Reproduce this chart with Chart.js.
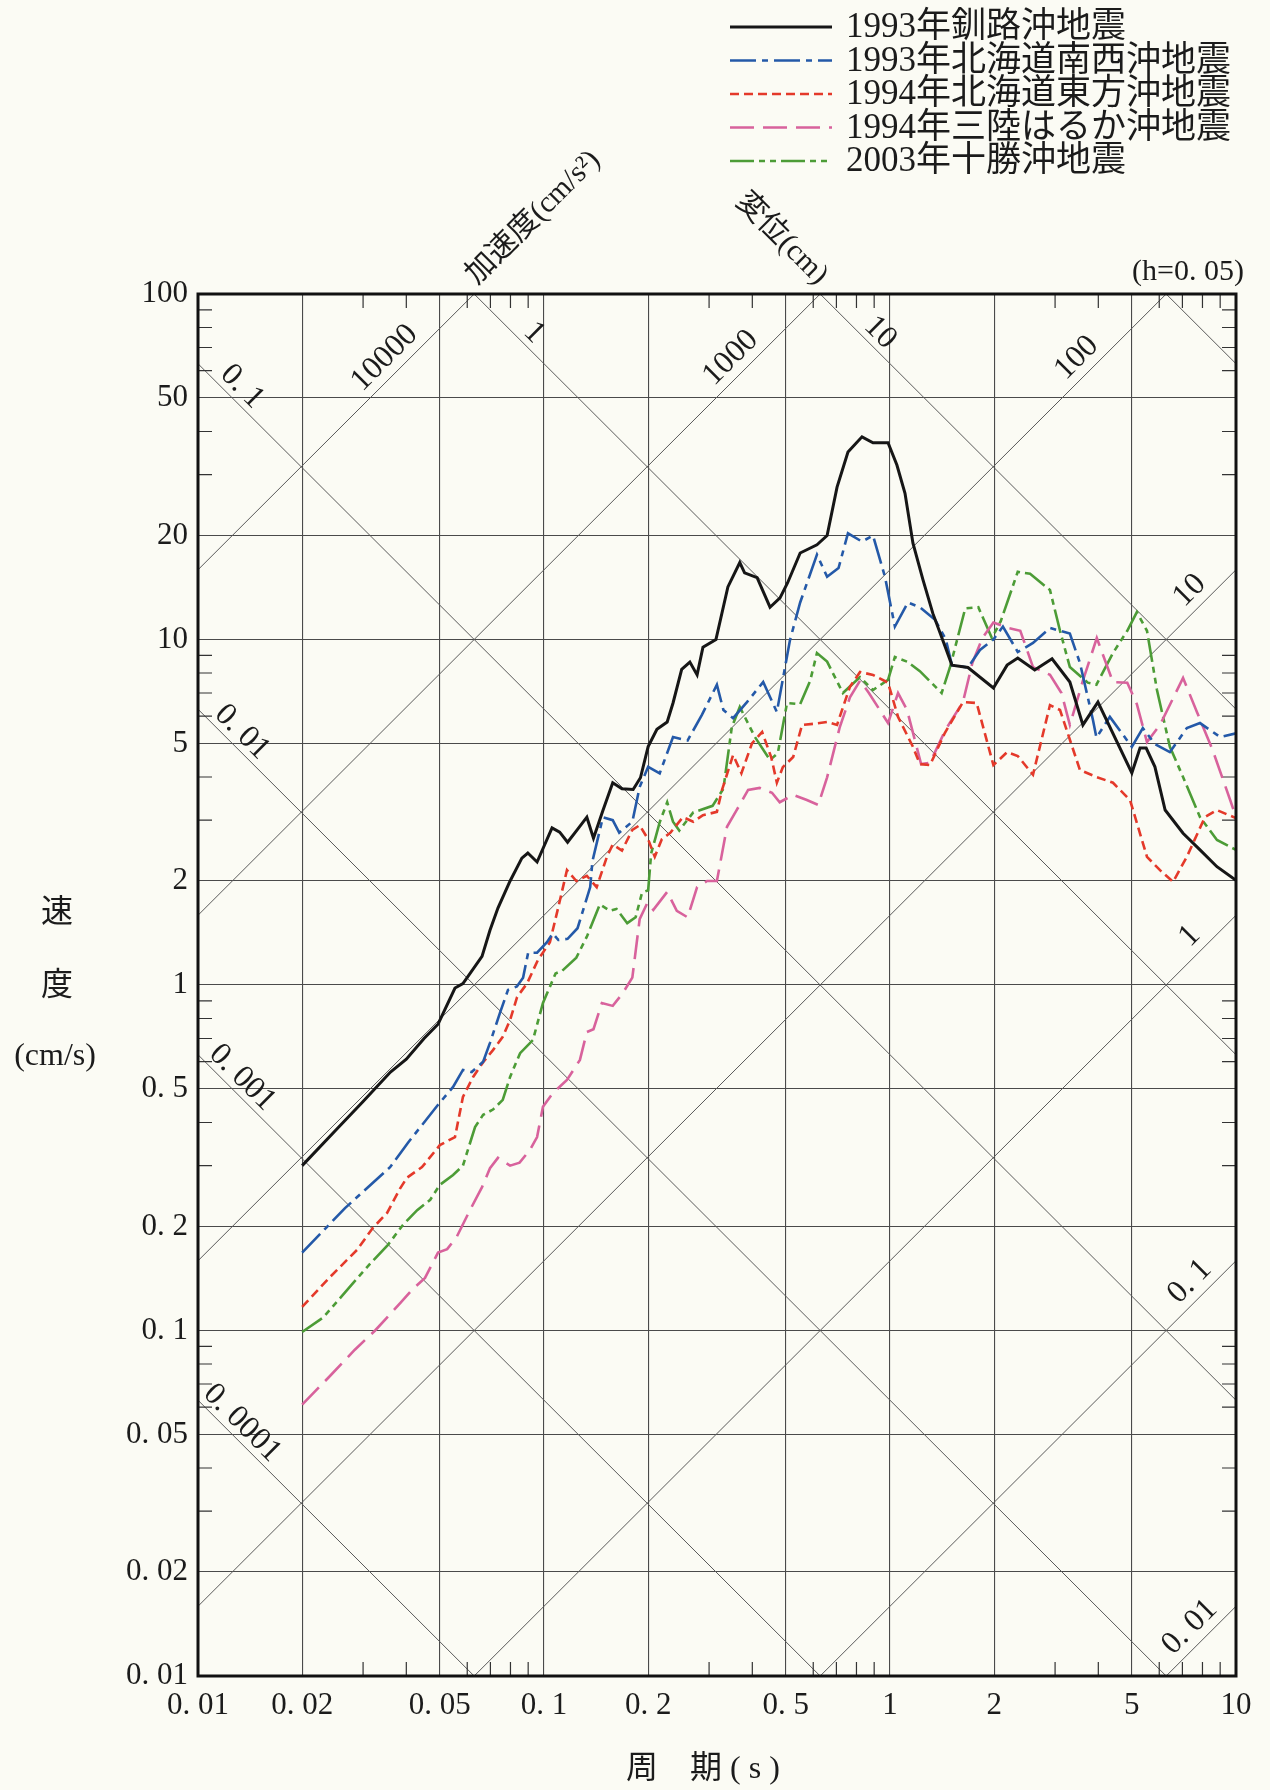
<!DOCTYPE html>
<html>
<head>
<meta charset="utf-8">
<script src="https://cdn.jsdelivr.net/npm/chart.js@4.4.1/dist/chart.umd.min.js"></script>
<style>
  html, body { margin: 0; padding: 0; background: #fbfbf4; }
  #wrap { position: absolute; left: 0; top: 0; width: 1270px; height: 1790px; }
</style>
</head>
<body>
<div id="wrap"><canvas id="grafico" width="1270" height="1790"></canvas></div>
<script>
// periods (s) and velocities (cm/s)
var kushiro = [[0.02,0.30],[0.025,0.38],[0.03,0.46],[0.036,0.56],[0.04,0.61],[0.045,0.70],[0.0494,0.77],[0.0553,0.98],[0.0583,1.01],[0.0662,1.21],[0.0698,1.44],[0.0736,1.67],[0.0798,2.0],[0.0863,2.33],[0.0898,2.41],[0.0955,2.27],[0.1055,2.85],[0.111,2.77],[0.117,2.59],[0.125,2.82],[0.133,3.06],[0.139,2.66],[0.148,3.2],[0.158,3.85],[0.168,3.7],[0.181,3.68],[0.19,3.98],[0.2,4.9],[0.212,5.5],[0.227,5.77],[0.236,6.55],[0.25,8.2],[0.264,8.6],[0.277,7.9],[0.288,9.5],[0.314,10.0],[0.34,14.2],[0.368,16.7],[0.38,15.6],[0.413,15.1],[0.45,12.4],[0.481,13.2],[0.506,14.6],[0.55,17.8],[0.615,18.8],[0.658,20.0],[0.703,27.6],[0.756,34.9],[0.83,38.6],[0.893,37.1],[0.987,37.1],[1.047,32.0],[1.105,26.5],[1.165,19.0],[1.245,14.9],[1.33,11.9],[1.42,9.97],[1.51,8.43],[1.68,8.3],[1.99,7.24],[2.18,8.43],[2.34,8.84],[2.62,8.16],[2.94,8.79],[3.31,7.53],[3.61,5.66],[3.99,6.59],[5.0,4.11],[5.28,4.85],[5.5,4.85],[5.83,4.28],[6.24,3.21],[7.03,2.75],[7.87,2.46],[8.81,2.2],[10,2.01]];
var nansei = [[0.02,0.168],[0.0266,0.226],[0.0359,0.297],[0.0404,0.349],[0.0494,0.45],[0.0546,0.507],[0.0583,0.568],[0.0618,0.56],[0.0667,0.60],[0.0698,0.68],[0.0746,0.83],[0.0787,0.968],[0.0835,0.99],[0.087,1.05],[0.09,1.24],[0.0955,1.24],[0.102,1.33],[0.106,1.41],[0.11,1.35],[0.117,1.36],[0.125,1.46],[0.136,1.92],[0.138,2.28],[0.148,3.06],[0.158,3.0],[0.165,2.76],[0.18,2.97],[0.189,3.74],[0.2,4.28],[0.216,4.1],[0.236,5.22],[0.26,5.1],[0.286,6.05],[0.316,7.4],[0.33,6.25],[0.352,5.92],[0.386,6.59],[0.43,7.53],[0.471,6.17],[0.514,9.96],[0.55,12.8],[0.615,17.6],[0.658,15.2],[0.71,16.1],[0.756,20.3],[0.83,19.2],[0.893,20.0],[0.967,15.2],[1.033,10.9],[1.127,12.8],[1.22,12.4],[1.35,11.4],[1.45,10.0],[1.51,8.43],[1.68,8.3],[1.82,9.33],[1.99,10.0],[2.12,10.9],[2.34,9.2],[2.59,9.77],[2.9,10.8],[3.31,10.4],[3.54,8.55],[3.86,5.85],[3.95,5.2],[4.32,5.97],[5.0,4.89],[5.38,5.54],[5.83,4.98],[6.44,4.72],[7.21,5.54],[7.87,5.73],[9.0,5.22],[10,5.35]];
var toho = [[0.02,0.117],[0.0241,0.143],[0.0288,0.171],[0.032,0.198],[0.0352,0.219],[0.0384,0.258],[0.0402,0.277],[0.0444,0.297],[0.05,0.344],[0.0553,0.363],[0.0583,0.474],[0.0624,0.542],[0.0667,0.598],[0.0712,0.648],[0.076,0.708],[0.0798,0.792],[0.0836,0.923],[0.0893,1.01],[0.096,1.18],[0.104,1.33],[0.11,1.68],[0.1165,2.15],[0.124,2.0],[0.133,2.07],[0.142,1.92],[0.152,2.35],[0.158,2.55],[0.168,2.45],[0.18,2.81],[0.189,2.9],[0.2,2.64],[0.209,2.35],[0.219,2.64],[0.232,2.76],[0.252,3.06],[0.27,2.97],[0.288,3.1],[0.316,3.17],[0.327,3.67],[0.352,4.63],[0.372,4.1],[0.399,5.0],[0.427,5.4],[0.454,4.55],[0.471,3.85],[0.49,4.27],[0.525,4.57],[0.557,5.66],[0.6,5.7],[0.658,5.77],[0.703,5.66],[0.766,7.3],[0.819,8.05],[0.893,7.9],[0.987,7.5],[1.055,5.97],[1.165,4.89],[1.22,4.36],[1.305,4.33],[1.44,5.36],[1.625,6.59],[1.78,6.55],[1.99,4.33],[2.18,4.72],[2.34,4.6],[2.59,4.06],[2.9,6.46],[3.1,6.25],[3.54,4.19],[3.95,4.0],[4.41,3.85],[4.94,3.43],[5.53,2.35],[6.03,2.15],[6.58,1.99],[7.21,2.35],[8.13,3.06],[8.8,3.21],[10,3.04]];
var sanriku = [[0.02,0.061],[0.0238,0.073],[0.0284,0.088],[0.0325,0.1],[0.0384,0.12],[0.0415,0.131],[0.0453,0.142],[0.0494,0.168],[0.0525,0.172],[0.056,0.187],[0.0611,0.223],[0.0662,0.26],[0.0698,0.295],[0.0736,0.316],[0.0798,0.3],[0.085,0.306],[0.091,0.333],[0.0955,0.363],[0.0993,0.444],[0.106,0.486],[0.1165,0.531],[0.127,0.607],[0.133,0.731],[0.139,0.745],[0.147,0.887],[0.158,0.87],[0.169,0.948],[0.18,1.05],[0.189,1.55],[0.199,1.73],[0.207,1.65],[0.227,1.86],[0.242,1.64],[0.26,1.57],[0.277,1.92],[0.296,2.0],[0.316,2.0],[0.338,2.87],[0.36,3.2],[0.389,3.67],[0.42,3.72],[0.456,3.6],[0.48,3.38],[0.525,3.55],[0.575,3.43],[0.62,3.32],[0.658,3.99],[0.716,5.58],[0.766,6.8],[0.819,7.6],[0.869,7.0],[0.93,6.3],[0.987,5.73],[1.055,7.0],[1.12,6.25],[1.23,4.36],[1.305,4.4],[1.45,5.5],[1.625,6.59],[1.73,8.55],[1.85,10.1],[1.99,11.2],[2.2,10.8],[2.38,10.6],[2.59,8.32],[2.9,7.9],[3.13,7.0],[3.31,5.66],[3.61,7.6],[3.96,10.1],[4.41,7.53],[4.85,7.5],[5.17,6.5],[5.53,5.05],[6.03,5.66],[7.03,7.74],[7.71,6.17],[8.55,4.8],[9.62,3.43],[10,3.06]];
var tokachi = [[0.02,0.099],[0.023,0.109],[0.0275,0.134],[0.0318,0.158],[0.0354,0.177],[0.0391,0.202],[0.043,0.223],[0.0469,0.239],[0.05,0.264],[0.0546,0.282],[0.0583,0.3],[0.0632,0.388],[0.0667,0.421],[0.0712,0.436],[0.076,0.465],[0.0798,0.542],[0.0853,0.635],[0.0929,0.693],[0.0993,0.887],[0.108,1.08],[0.113,1.1],[0.124,1.2],[0.133,1.38],[0.145,1.71],[0.155,1.64],[0.162,1.66],[0.174,1.51],[0.184,1.57],[0.192,1.85],[0.2,1.88],[0.204,2.4],[0.216,2.96],[0.227,3.38],[0.236,2.97],[0.246,2.8],[0.27,3.16],[0.307,3.3],[0.33,3.7],[0.349,5.58],[0.368,6.38],[0.407,5.22],[0.45,4.48],[0.474,4.69],[0.504,6.55],[0.55,6.5],[0.588,7.6],[0.615,9.14],[0.658,8.63],[0.731,7.0],[0.819,7.78],[0.893,7.14],[0.987,7.64],[1.033,8.9],[1.12,8.63],[1.22,8.1],[1.41,7.0],[1.49,8.3],[1.65,12.3],[1.8,12.4],[1.97,10.1],[2.09,11.3],[2.34,15.7],[2.54,15.5],[2.9,13.9],[3.1,10.6],[3.31,8.32],[3.73,7.5],[3.95,7.4],[4.41,9.14],[4.85,10.6],[5.17,12.0],[5.53,10.6],[5.91,7.14],[6.44,4.89],[7.03,4.0],[7.87,3.06],[8.81,2.63],[10,2.46]];

var seriesNames = ["1993年釧路沖地震", "1993年北海道南西沖地震", "1994年北海道東方沖地震", "1994年三陸はるか沖地震", "2003年十勝沖地震"];

var xTicks = [0.01, 0.02, 0.05, 0.1, 0.2, 0.5, 1, 2, 5, 10];
var xTickLabels = ["0. 01", "0. 02", "0. 05", "0. 1", "0. 2", "0. 5", "1", "2", "5", "10"];
var yTicks = [0.01, 0.02, 0.05, 0.1, 0.2, 0.5, 1, 2, 5, 10, 20, 50, 100];
var yTickLabels = ["0. 01", "0. 02", "0. 05", "0. 1", "0. 2", "0. 5", "1", "2", "5", "10", "20", "50", "100"];
var xMinor = [0.03, 0.04, 0.06, 0.07, 0.08, 0.09, 0.3, 0.4, 0.6, 0.7, 0.8, 0.9, 3, 4, 6, 7, 8, 9];
var yMinor = [0.03, 0.04, 0.06, 0.07, 0.08, 0.09, 0.3, 0.4, 0.6, 0.7, 0.8, 0.9, 3, 4, 6, 7, 8, 9, 30, 40, 60, 70, 80, 90];

// tripartite lines: acceleration (cm/s2) and displacement (cm)
var accelLines = [0.01, 0.1, 1, 10, 100, 1000, 10000];
var accelLabels = ["0. 01", "0. 1", "1", "10", "100", "1000", "10000"];
var dispLines = [0.0001, 0.001, 0.01, 0.1, 1, 10, 100];
var dispLabels = ["0. 0001", "0. 001", "0. 01", "0. 1", "1", "10", ""];

var PI2 = 2 * Math.PI;
var serif = '"Liberation Serif", "Noto Sans CJK JP", serif';
var ink = "#1b1b1b";

var estilos = [
  { color: "#161616", width: 3, dash: [] },
  { color: "#2459a8", width: 2.6, dash: [26, 6, 6, 6] },
  { color: "#e4392a", width: 2.6, dash: [9, 5] },
  { color: "#d8629c", width: 2.6, dash: [24, 9] },
  { color: "#4c9c36", width: 2.6, dash: [24, 5, 6, 5, 6, 5] },
];
var curvas = [kushiro, nansei, toho, sanriku, tokachi];

var tripartite = {
  id: "tripartite",
  beforeDraw: function (chart) {
    var ctx = chart.ctx;
    ctx.save();
    ctx.fillStyle = "#fbfbf4";
    ctx.fillRect(0, 0, chart.width, chart.height);
    ctx.restore();
  },
  beforeDatasetsDraw: function (chart) {
    var ctx = chart.ctx, a = chart.chartArea, x = chart.scales.x, y = chart.scales.y;
    var seg = function (t1, v1, t2, v2) {
      ctx.beginPath();
      ctx.moveTo(x.getPixelForValue(t1), y.getPixelForValue(v1));
      ctx.lineTo(x.getPixelForValue(t2), y.getPixelForValue(v2));
      ctx.stroke();
    };
    ctx.save();
    ctx.beginPath();
    ctx.rect(a.left, a.top, a.right - a.left, a.bottom - a.top);
    ctx.clip();
    ctx.strokeStyle = "#5a5a5a";
    ctx.lineWidth = 1;
    accelLines.forEach(function (A) {
      seg(0.001, A * 0.001 / PI2, 100, A * 100 / PI2);
    });
    dispLines.forEach(function (D) {
      seg(0.001, PI2 * D / 0.001, 100, PI2 * D / 100);
    });
    ctx.restore();

    // short inner ticks on the frame
    ctx.save();
    ctx.strokeStyle = "#333";
    ctx.lineWidth = 1.2;
    xMinor.forEach(function (t) {
      var px = x.getPixelForValue(t);
      ctx.beginPath();
      ctx.moveTo(px, a.top); ctx.lineTo(px, a.top + 14);
      ctx.moveTo(px, a.bottom); ctx.lineTo(px, a.bottom - 14);
      ctx.stroke();
    });
    yMinor.forEach(function (v) {
      var py = y.getPixelForValue(v);
      ctx.beginPath();
      ctx.moveTo(a.left, py); ctx.lineTo(a.left + 14, py);
      ctx.moveTo(a.right, py); ctx.lineTo(a.right - 14, py);
      ctx.stroke();
    });
    ctx.restore();
  },
  afterDatasetsDraw: function (chart) {
    var ctx = chart.ctx, a = chart.chartArea, x = chart.scales.x, y = chart.scales.y;

    ctx.save();
    ctx.strokeStyle = "#111";
    ctx.lineWidth = 3;
    ctx.strokeRect(a.left, a.top, a.right - a.left, a.bottom - a.top);
    ctx.restore();

    var tag = function (txt, t, v, ang, off) {
      ctx.save();
      ctx.translate(x.getPixelForValue(t), y.getPixelForValue(v));
      ctx.rotate(ang);
      ctx.fillText(txt, 0, -off);
      ctx.restore();
    };

    ctx.save();
    ctx.fillStyle = ink;
    ctx.font = "32px " + serif;
    ctx.textAlign = "center";
    ctx.textBaseline = "middle";
    accelLines.forEach(function (A, i) {
      var t = PI2 * 60 / A;
      if (t > 10) t = 8;
      tag(accelLabels[i], t, A * t / PI2, -Math.PI / 4, 18);
    });
    dispLines.forEach(function (D, i) {
      if (!dispLabels[i]) return;
      var t = PI2 * D / 72;
      if (t < 0.0125) t = 0.0125;
      tag(dispLabels[i], t, PI2 * D / t, Math.PI / 4, 15);
    });
    ctx.restore();

    // axis names for the diagonal scales
    ctx.save();
    ctx.fillStyle = ink;
    ctx.font = "30px " + serif;
    ctx.textBaseline = "alphabetic";
    ctx.translate(x.getPixelForValue(PI2 * 100 / 10000), a.top);
    ctx.rotate(-Math.PI / 4);
    ctx.textAlign = "left";
    ctx.fillText("加速度(cm/s²)", 8, -4);
    ctx.restore();

    ctx.save();
    ctx.fillStyle = ink;
    ctx.font = "30px " + serif;
    ctx.textBaseline = "alphabetic";
    ctx.translate(x.getPixelForValue(PI2 * 100 / 1000), a.top);
    ctx.rotate(Math.PI / 4);
    ctx.textAlign = "right";
    ctx.fillText("変位(cm)", -8, -4);
    ctx.restore();

    ctx.save();
    ctx.fillStyle = ink;
    ctx.font = "30px " + serif;
    ctx.textAlign = "right";
    ctx.textBaseline = "middle";
    ctx.fillText("(h=0. 05)", a.right + 8, a.top - 22);

    ctx.font = "32px " + serif;
    ctx.textAlign = "center";
    ctx.fillText("速", 57, 914);
    ctx.fillText("度", 57, 987);
    ctx.fillText("(cm/s)", 55, 1057);
    ctx.fillText("周　期 ( s )", 703, 1770);
    ctx.restore();

    // legend
    ctx.save();
    ctx.font = "35px " + serif;
    ctx.textBaseline = "middle";
    ctx.textAlign = "left";
    seriesNames.forEach(function (name, i) {
      var yy = 27 + i * 33.5;
      var st = estilos[i];
      ctx.strokeStyle = st.color;
      ctx.lineWidth = st.width;
      ctx.setLineDash(st.dash);
      ctx.beginPath();
      ctx.moveTo(730, yy);
      ctx.lineTo(832, yy);
      ctx.stroke();
      ctx.setLineDash([]);
      ctx.fillStyle = ink;
      ctx.fillText(name, 846, yy + 1);
    });
    ctx.restore();
  },
};

var ctx = document.getElementById("grafico").getContext("2d");
var myChart = new Chart(ctx, {
  type: "line",
  data: {
    datasets: curvas.map(function (c, i) {
      return {
        label: seriesNames[i],
        data: c.map(function (p) { return { x: p[0], y: p[1] }; }),
        borderColor: estilos[i].color,
        borderWidth: estilos[i].width,
        borderDash: estilos[i].dash,
        pointRadius: 0,
        tension: 0,
        fill: false,
      };
    }),
  },
  options: {
    responsive: false,
    animation: false,
    devicePixelRatio: 1,
    layout: { padding: { left: 0, top: 294, right: 34, bottom: 0 } },
    plugins: { legend: { display: false }, tooltip: { enabled: false } },
    scales: {
      x: {
        type: "logarithmic",
        min: 0.01,
        max: 10,
        afterBuildTicks: function (s) { s.ticks = xTicks.map(function (v) { return { value: v }; }); },
        afterFit: function (s) { s.height = 114; },
        grid: { color: "#4a4a4a", lineWidth: 1.1, drawTicks: false },
        border: { display: false },
        ticks: {
          autoSkip: false, maxRotation: 0, minRotation: 0, padding: 11, color: ink,
          font: { family: serif, size: 31 },
          callback: function (v, i) { return xTickLabels[i]; },
        },
      },
      y: {
        type: "logarithmic",
        min: 0.01,
        max: 100,
        afterBuildTicks: function (s) { s.ticks = yTicks.map(function (v) { return { value: v }; }); },
        afterFit: function (s) { s.width = 198; },
        grid: { color: "#4a4a4a", lineWidth: 1.1, drawTicks: false },
        border: { display: false },
        ticks: {
          autoSkip: false, padding: 10, color: ink,
          font: { family: serif, size: 31 },
          callback: function (v, i) { return yTickLabels[i]; },
        },
      },
    },
  },
  plugins: [tripartite],
});
</script>
</body>
</html>
